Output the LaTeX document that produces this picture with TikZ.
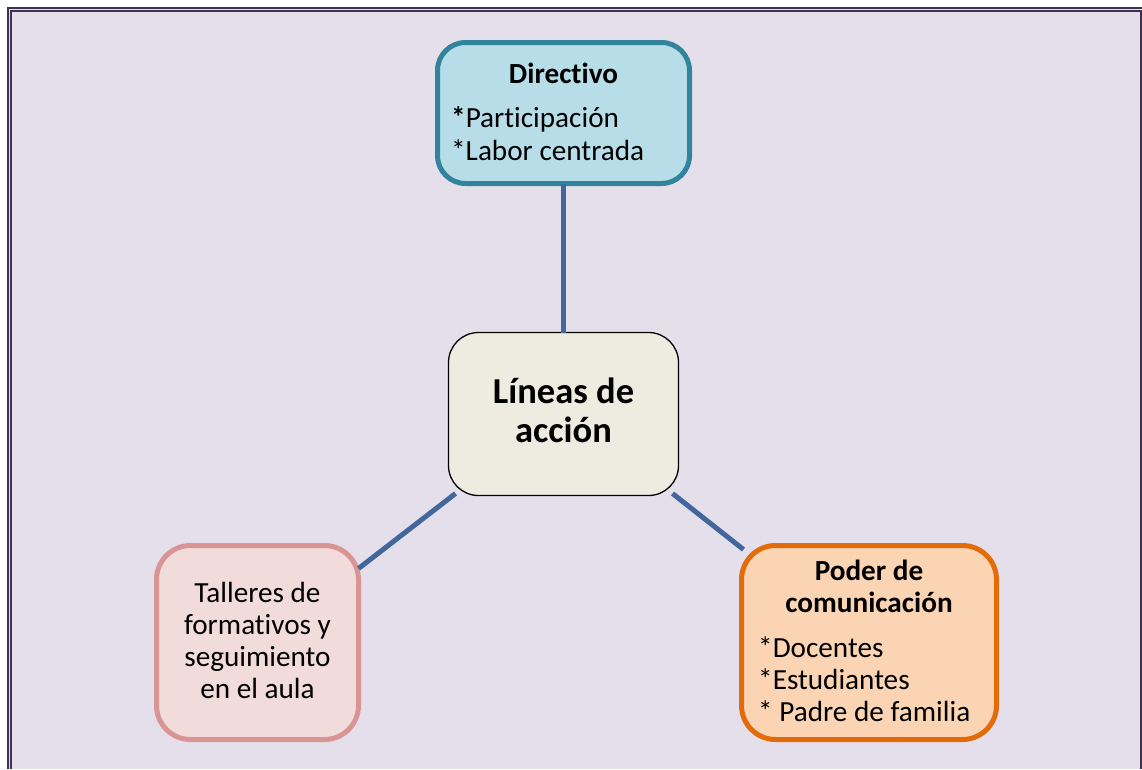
\documentclass[tikz,border=0pt]{standalone}
\usepackage{fontspec}
\setmainfont{Carlito}[Ligatures=NoCommon]
\usetikzlibrary{calc}
\definecolor{bgc}{HTML}{E5DFEC}
\definecolor{framec}{HTML}{3F3151}
\definecolor{dirfill}{HTML}{B7DDE8}
\definecolor{dirline}{HTML}{31849B}
\definecolor{cenfill}{HTML}{EEECE1}
\definecolor{talfill}{HTML}{F2DBDB}
\definecolor{talline}{HTML}{D99594}
\definecolor{podfill}{HTML}{FBD4B4}
\definecolor{podline}{HTML}{E36C0A}
\definecolor{connc}{HTML}{41679B}
\tikzset{
  boxshape/.style={rectangle, inner sep=0pt, outer sep=0pt},
  conn/.style={draw=connc, line width=5pt},
  txt/.style={inner sep=0pt, anchor=base, font=\fontsize{29.2}{33}\selectfont},
  txtl/.style={txt, anchor=base west},
  ttl/.style={txt, font=\fontsize{29.2}{33}\selectfont\bfseries},
  big/.style={txt, font=\fontsize{36.5}{40}\selectfont\bfseries}
}
\begin{document}
\begin{tikzpicture}[x=1pt,y=-1pt]
\useasboundingbox (0,0) rectangle (1142,769);
\fill[white] (0,0) rectangle (1142,769);
\fill[bgc] (9,9) rectangle (1140,769);
\draw[framec, line width=2pt] (7.5,769) -- (7.5,7.5) -- (1142,7.5);
\draw[framec, line width=2pt] (10.8,769) -- (10.8,10.8) -- (1140.5,10.8) -- (1140.5,769);

% boxes
\node[boxshape, draw=dirline, fill=dirfill, line width=5pt, rounded corners=28pt,
      minimum width=252pt, minimum height=141pt] (dir) at (563.5,113) {};
\node[boxshape, draw=black, fill=cenfill, line width=1.3pt, rounded corners=30pt,
      minimum width=230pt, minimum height=163pt] (cen) at (563.5,414) {};
\node[boxshape, draw=talline, fill=talfill, line width=5pt, rounded corners=34pt,
      minimum width=202pt, minimum height=194pt] (tal) at (257.5,642.5) {};
\node[boxshape, draw=podline, fill=podfill, line width=5pt, rounded corners=34pt,
      minimum width=255pt, minimum height=194pt] (pod) at (869,642.5) {};

% connectors
\draw[conn] (dir.south) -- (cen.north);
\draw[conn] ($(cen.south west)+(7,-2)$) -- ($(tal.north east)+(0,23)$);
\draw[conn] ($(cen.south east)+(-6,-2)$) -- ($(pod.north west)+(2,4)$);

% Directivo text
\node[ttl] (dirt) at (563.5,83) {Directivo};
\node[txtl] (dir1) at (451,127) {\textbf{*}Participación};
\node[txtl] (dir2) at (451,160) {*Labor centrada};

% centre text
\node[big] (cen1) at (563.5,403) {Líneas de};
\node[big] (cen2) at (563.5,442) {acción};

% Talleres text
\node[txt] (tal1) at (257.5,602) {Talleres de};
\node[txt] (tal2) at (257.5,634) {formativos y};
\node[txt] (tal3) at (257.5,666) {seguimiento};
\node[txt] (tal4) at (257.5,698) {en el aula};

% Poder text
\node[ttl] (podt1) at (869,580) {Poder de};
\node[ttl] (podt2) at (869,612) {comunicación};
\node[txtl] (pod1) at (758,657) {*Docentes};
\node[txtl] (pod2) at (758,689) {*Estudiantes};
\node[txtl] (pod3) at (758,721) {* Padre de familia};
\end{tikzpicture}
\end{document}
